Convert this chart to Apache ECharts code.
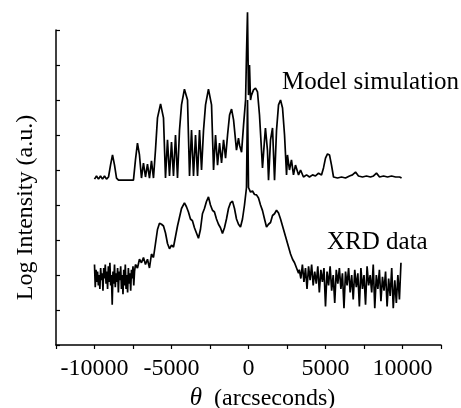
<!DOCTYPE html>
<html>
<head>
<meta charset="utf-8">
<script src="https://cdn.jsdelivr.net/npm/echarts@6/dist/echarts.min.js"></script>
<style>
  html, body { margin: 0; padding: 0; background: #fff; }
  #main { width: 461px; height: 408px; }
</style>
</head>
<body>
<div id="main"></div>
<script>
// theta (arcsec), log intensity (a.u.)
var modelSim = [
  [-10000, 4.74], [-9870, 4.83], [-9740, 4.74], [-9610, 4.83], [-9480, 4.74], [-9350, 4.83],
  [-9220, 4.74], [-9090, 4.80], [-8960, 5.14], [-8830, 5.43], [-8700, 5.14], [-8570, 4.77],
  [-8440, 4.71], [-7470, 4.71], [-7340, 5.29], [-7210, 5.77], [-7080, 5.43], [-6950, 4.77],
  [-6820, 5.2], [-6690, 4.8], [-6560, 5.17], [-6430, 4.77], [-6300, 5.26], [-6170, 4.77],
  [-6040, 5.57], [-5910, 6.49], [-5710, 6.89], [-5520, 6.49], [-5390, 4.77], [-5260, 5.86],
  [-5130, 4.83], [-5000, 5.8], [-4870, 4.83], [-4740, 6.0], [-4610, 4.77], [-4480, 6.14],
  [-4350, 6.86], [-4160, 7.31], [-3960, 7.0], [-3830, 4.83], [-3700, 6.14], [-3570, 4.83],
  [-3440, 6.0], [-3310, 4.83], [-3180, 6.14], [-3050, 5.0], [-2920, 6.14], [-2790, 6.86],
  [-2600, 7.31], [-2400, 6.86], [-2270, 5.0], [-2140, 6.0], [-2010, 5.14], [-1880, 5.77],
  [-1750, 5.2], [-1620, 5.86], [-1490, 5.34], [-1360, 6.0], [-1230, 6.57], [-1100, 6.74],
  [-970, 6.43], [-780, 5.57], [-650, 5.91], [-580, 5.71], [-450, 5.51], [-320, 6.29],
  [-190, 7.0], [-130, 8.29], [-65, 9.51], [0, 7.14], [65, 8.0], [130, 7.0], [195, 7.14],
  [325, 7.29], [455, 7.34], [585, 7.23], [714, 6.57], [909, 5.06], [1040, 5.86], [1100, 6.2],
  [1230, 5.57], [1300, 4.71], [1430, 5.86], [1560, 6.2], [1690, 4.71], [1820, 6.14],
  [1950, 6.86], [2080, 7.0], [2210, 6.77], [2340, 6.0], [2470, 4.86], [2530, 5.43],
  [2660, 5.0], [2790, 5.29], [2920, 4.86], [3050, 5.14], [3250, 4.86], [3380, 5.0],
  [3570, 4.8], [3770, 4.86], [3960, 4.8], [4160, 4.86], [4350, 4.83], [4550, 4.91],
  [4740, 4.86], [4870, 5.06], [5000, 5.34], [5130, 5.46], [5260, 5.43], [5390, 5.14],
  [5520, 4.8], [5780, 4.77], [6040, 4.8], [6300, 4.77], [6560, 4.83], [6750, 4.86],
  [6950, 4.94], [7140, 4.83], [7400, 4.8], [7660, 4.83], [7920, 4.8], [8120, 4.83],
  [8310, 4.91], [8510, 4.8], [8770, 4.83], [9030, 4.8], [9290, 4.83], [9550, 4.8],
  [9810, 4.8], [9940, 4.77]
];

var xrdLeft = [
  [-10000, 2.3], [-9950, 1.65], [-9900, 2.15], [-9850, 1.8], [-9800, 2.1], [-9750, 1.7],
  [-9700, 2.0], [-9650, 1.6], [-9600, 2.2], [-9550, 1.85], [-9500, 2.05], [-9450, 1.55],
  [-9400, 2.2], [-9350, 1.9], [-9300, 2.3], [-9250, 1.75], [-9200, 2.1], [-9150, 1.6],
  [-9100, 2.25], [-9050, 1.8], [-9000, 2.35], [-8950, 1.7], [-8900, 2.0], [-8850, 1.15],
  [-8800, 2.1], [-8750, 1.75], [-8700, 2.3], [-8650, 1.65], [-8600, 2.05], [-8550, 1.8],
  [-8500, 2.2], [-8450, 1.5], [-8400, 2.1], [-8350, 1.85], [-8300, 2.25], [-8250, 1.6],
  [-8200, 2.0], [-8150, 1.45], [-8100, 2.15], [-8050, 1.7], [-8000, 2.3], [-7950, 1.6],
  [-7900, 2.0], [-7850, 1.5], [-7800, 2.2], [-7750, 1.75], [-7700, 2.05], [-7650, 1.55],
  [-7600, 2.15], [-7550, 1.9], [-7500, 2.25], [-7450, 1.7], [-7400, 2.1]
];

var xrdMid = [
  [-7340, 2.3], [-7210, 2.2], [-7080, 2.45], [-6950, 2.35], [-6820, 2.5], [-6690, 2.3],
  [-6560, 2.45], [-6430, 2.2], [-6300, 2.6], [-6170, 2.5], [-6040, 2.9], [-5910, 3.3],
  [-5780, 3.48], [-5650, 3.45], [-5520, 3.4], [-5390, 3.2], [-5260, 2.9], [-5130, 2.75],
  [-5000, 2.85], [-4870, 2.8], [-4740, 3.1], [-4610, 3.4], [-4480, 3.65], [-4350, 3.9],
  [-4160, 4.06], [-4030, 3.95], [-3900, 3.8], [-3770, 3.6], [-3640, 3.55], [-3510, 3.35],
  [-3380, 3.2], [-3250, 3.05], [-3120, 3.3], [-2990, 3.75], [-2860, 3.9], [-2730, 4.1],
  [-2600, 4.23], [-2470, 4.0], [-2340, 3.85], [-2210, 3.8], [-2080, 3.6], [-1950, 3.45],
  [-1820, 3.35], [-1690, 3.19], [-1560, 3.35], [-1430, 3.6], [-1300, 3.9], [-1170, 4.06],
  [-1040, 4.11], [-910, 3.9], [-780, 3.6], [-650, 3.45], [-520, 3.37], [-390, 3.6],
  [-260, 4.0], [-130, 4.5], [-65, 7.0], [0, 4.5], [130, 4.37], [260, 4.4], [390, 4.3],
  [520, 4.29], [650, 4.2], [780, 4.0], [910, 3.84], [1040, 3.6], [1170, 3.37], [1300, 3.45],
  [1430, 3.5], [1560, 3.7], [1690, 3.75], [1820, 3.85], [1950, 3.77], [2080, 3.6],
  [2210, 3.4], [2340, 3.2], [2470, 3.0], [2600, 2.8], [2730, 2.6], [2860, 2.45],
  [2990, 2.35], [3120, 2.2], [3250, 2.05]
];

var xrdRight = [
  [3300, 2.15], [3400, 1.9], [3500, 2.3], [3600, 1.8], [3700, 2.2], [3800, 1.6], [3900, 2.25],
  [4000, 1.85], [4100, 2.3], [4200, 1.7], [4300, 2.1], [4400, 1.75], [4500, 2.25], [4600, 1.5],
  [4700, 2.15], [4800, 1.8], [4900, 2.2], [5000, 1.1], [5100, 2.1], [5200, 1.7], [5300, 2.25],
  [5400, 1.55], [5500, 2.0], [5600, 1.2], [5700, 2.15], [5800, 1.75], [5900, 2.2], [6000, 1.6],
  [6100, 2.05], [6200, 1.05], [6300, 2.1], [6400, 1.7], [6500, 2.2], [6600, 1.5], [6700, 2.0],
  [6800, 1.3], [6900, 2.15], [7000, 1.65], [7100, 2.05], [7200, 1.1], [7300, 2.2], [7400, 1.6],
  [7500, 2.0], [7600, 1.15], [7700, 2.25], [7800, 1.7], [7900, 2.0], [8000, 1.5], [8100, 2.3],
  [8200, 1.05], [8300, 2.0], [8400, 1.6], [8500, 2.15], [8600, 1.25], [8700, 1.95], [8800, 1.55],
  [8900, 2.1], [9000, 1.1], [9100, 1.9], [9200, 1.4], [9300, 2.2], [9400, 1.05], [9500, 1.85],
  [9600, 1.2], [9700, 2.0], [9800, 1.3], [9900, 2.35]
];

var xrdData = xrdLeft.concat(xrdMid, xrdRight);

var serif = '"Liberation Serif", "Times New Roman", serif';

var chart = echarts.init(document.getElementById('main'));
chart.setOption({
  animation: false,
  backgroundColor: '#fff',
  grid: { left: 56, right: 20, top: 30, bottom: 63, outerBoundsMode: 'none' },
  xAxis: {
    type: 'value',
    min: -12500,
    max: 12500,
    interval: 2500,
    splitLine: { show: false },
    axisLine: { onZero: false, lineStyle: { color: '#000', width: 1.5 } },
    axisTick: { inside: false, length: 4, lineStyle: { color: '#000', width: 1.2 } },
    axisLabel: {
      margin: 12,
      color: '#000',
      fontFamily: serif,
      fontSize: 24,
      formatter: function (v) { return v % 5000 === 0 ? String(v) : ''; }
    },
    name: '{t|θ}  (arcseconds)',
    nameLocation: 'middle',
    nameGap: 40,
    nameTextStyle: {
      color: '#000',
      fontFamily: serif,
      fontSize: 24,
      padding: [0, 0, 0, 28],
      rich: { t: { fontStyle: 'italic', fontFamily: serif, fontSize: 25, color: '#000' } }
    }
  },
  yAxis: {
    type: 'value',
    min: 0,
    max: 9,
    interval: 1,
    splitLine: { show: false },
    axisLine: { onZero: false, lineStyle: { color: '#000', width: 1.5 } },
    axisTick: { inside: true, length: 4, lineStyle: { color: '#000', width: 1.2 } },
    axisLabel: { show: false },
    name: 'Log Intensity (a.u.)',
    nameLocation: 'middle',
    nameGap: 18,
    nameTextStyle: { color: '#000', fontFamily: serif, fontSize: 24, padding: [0, 40, 0, 0] }
  },
  series: [
    {
      name: 'Model simulation',
      type: 'line',
      data: modelSim,
      showSymbol: false,
      clip: false,
      lineStyle: { color: '#000', width: 1.7 }
    },
    {
      name: 'XRD data',
      type: 'line',
      data: xrdData,
      showSymbol: false,
      clip: false,
      lineStyle: { color: '#000', width: 1.7 }
    }
  ],
  graphic: [
    {
      type: 'text', left: 282, top: 70,
      style: { text: 'Model simulation', fill: '#000', font: '25px ' + serif }
    },
    {
      type: 'text', left: 327, top: 230,
      style: { text: 'XRD data', fill: '#000', font: '25px ' + serif }
    }
  ]
});
</script>
</body>
</html>
